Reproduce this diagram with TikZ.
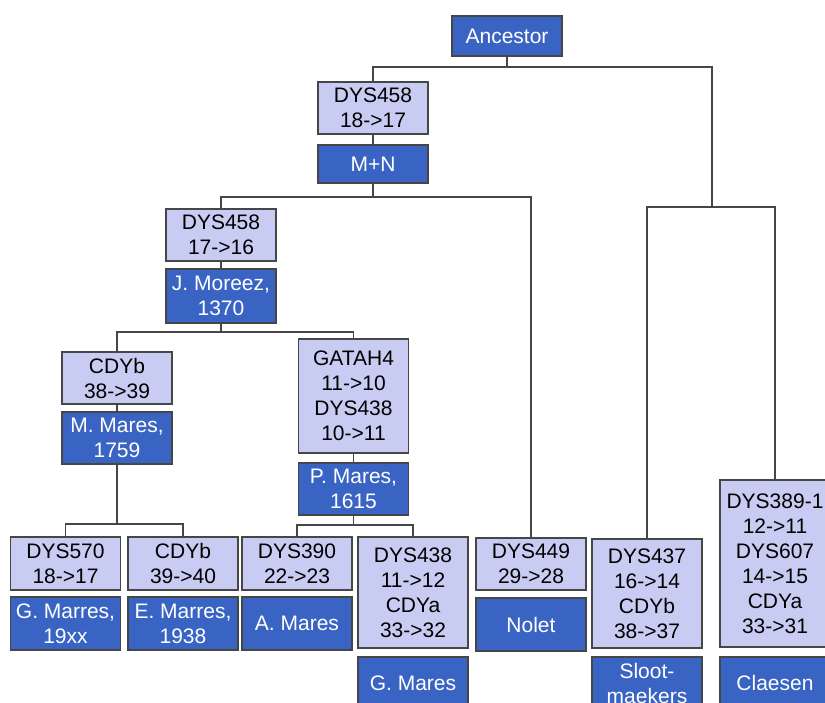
\documentclass[tikz,border=0pt]{standalone}
\usepackage{fontspec}
\setmainfont{Liberation Sans}
\usepackage{tikz}
\definecolor{mutfill}{RGB}{200,204,242}
\definecolor{famfill}{RGB}{58,100,196}
\definecolor{edgegray}{RGB}{70,70,70}

\begin{document}
\begin{tikzpicture}[x=1pt,y=-1pt,
      font=\fontsize{21}{25}\selectfont,
      box/.style={rectangle, draw=edgegray, line width=1.1pt, inner sep=0pt,
                  minimum width=110pt, align=center},
      mut/.style={box, fill=mutfill, text=black},
      fam/.style={box, fill=famfill, text=white},
      link/.style={draw=edgegray, line width=1.4pt}]
      \useasboundingbox (0,0) rectangle (825,702);
      \clip (0,0) rectangle (825,702);
      % ancestor and first split
      \node[fam, minimum height=40pt] (anc) at (507,36) {Ancestor};
      \node[mut, minimum height=52pt] (m1) at (373,108) {DYS458\\18->17};
      \node[fam, minimum height=38pt] (mn) at (373,164) {M+N};
      \node[mut, minimum height=52pt] (m2) at (221,235) {DYS458\\17->16};
      \node[fam, minimum height=54pt] (moreez) at (221,296) {J. Moreez,\\1370};
      \node[mut, minimum height=52pt] (m3) at (117,378) {CDYb\\38->39};
      \node[fam, minimum height=52pt] (mmares) at (117,438) {M. Mares,\\1759};
      \node[mut, minimum height=114pt] (m4) at (353.5,396) {GATAH4\\11->10\\DYS438\\10->11};
      \node[fam, minimum height=52pt] (pmares) at (353.5,489) {P. Mares,\\1615};
      % bottom row
      \node[mut, minimum height=53pt] (m5) at (65.5,563.5) {DYS570\\18->17};
      \node[fam, minimum height=53pt] (gmarres) at (65.5,623.5) {G. Marres,\\19xx};
      \node[mut, minimum height=53pt] (m6) at (183,563.5) {CDYb\\39->40};
      \node[fam, minimum height=53pt] (emarres) at (183,623.5) {E. Marres,\\1938};
      \node[mut, minimum height=53pt] (m7) at (297,563.5) {DYS390\\22->23};
      \node[fam, minimum height=53pt] (amares) at (297,623.5) {A. Mares};
      \node[mut, minimum height=111pt] (m8) at (413,592.5) {DYS438\\11->12\\CDYa\\33->32};
      \node[fam, minimum height=52pt] (gmares) at (413,683) {G. Mares};
      \node[mut, minimum height=52pt] (m9) at (531,564) {DYS449\\29->28};
      \node[fam, minimum height=53pt] (nolet) at (531,624.5) {Nolet};
      \node[mut, minimum height=109pt] (m10) at (647,593.5) {DYS437\\16->14\\CDYb\\38->37};
      \node[fam, minimum height=52pt] (sloot) at (647,683) {Sloot-\\maekers};
      \node[mut, minimum height=167pt] (m11) at (775,563.5) {DYS389-1\\12->11\\DYS607\\14->15\\CDYa\\33->31};
      \node[fam, minimum height=52pt] (claesen) at (775,683) {Claesen};
      % junctions
      \coordinate (jtop) at (712,67);
      \coordinate (jr) at (712,207);
      \coordinate (b1) at (373,197);
      \coordinate (b2) at (221,332);
      \coordinate (b3) at (117,524);
      \coordinate (b4) at (353.5,525);
      % connectors
      \draw[link] (anc.south) -- (anc.south |- jtop);
      \draw[link] (m1.north) |- (jtop) -- (jr);
      \draw[link] (m10.north) |- (jr) -| (m11.north);
      \draw[link] (m1.south) -- (mn.north);
      \draw[link] (mn.south) -- (b1);
      \draw[link] (m2.north) |- (b1) -| (m9.north);
      \draw[link] (m2.south) -- (moreez.north);
      \draw[link] (moreez.south) -- (b2);
      \draw[link] (m3.north) |- (b2) -| (m4.north);
      \draw[link] (m3.south) -- (mmares.north);
      \draw[link] (m4.south) -- (pmares.north);
      \draw[link] (mmares.south) -- (b3);
      \draw[link] (m5.north) |- (b3) -| (m6.north);
      \draw[link] (pmares.south) -- (b4);
      \draw[link] (m7.north) |- (b4) -| (m8.north);
\end{tikzpicture}
\end{document}
